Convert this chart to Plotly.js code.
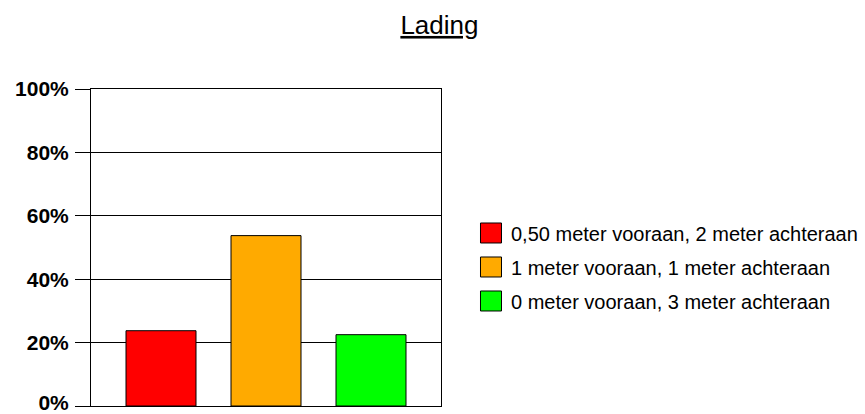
<!DOCTYPE html>
<html>
<head>
<meta charset="utf-8">
<script src="https://cdn.plot.ly/plotly-3.0.1.min.js"></script>
<style>
  html, body { margin: 0; padding: 0; background: #fff; }
  #chart { width: 865px; height: 414px; }
</style>
</head>
<body>
<div id="chart"></div>
<script>
// Ladingverdeling: aandeel per variant
const seriesNames = [
  '0,50 meter vooraan, 2 meter achteraan',
  '1 meter vooraan, 1 meter achteraan',
  '0 meter vooraan, 3 meter achteraan'
];
const shares = [0.2375, 0.5375, 0.225];
const barColors = ['#FF0000', '#FFAA00', '#00FF00'];
const yTickValues = [0, 0.2, 0.4, 0.6, 0.8, 1.0];

const FONT = 'Arial, "Liberation Sans", sans-serif';

const traces = seriesNames.map((name, i) => ({
  type: 'bar',
  name: name,
  x: [name],
  y: [shares[i]],
  legendgroup: 'g' + i,
  marker: { color: barColors[i], line: { color: '#000', width: 1 } },
  hoverinfo: 'y+name'
}));

const layout = {
  width: 865,
  height: 414,
  paper_bgcolor: '#fff',
  plot_bgcolor: '#fff',
  margin: { l: 91, r: 424, t: 89, b: 8, pad: 0, autoexpand: false },
  font: { family: FONT, color: '#000' },
  title: {
    text: '<u>Lading</u>',
    font: { family: FONT, size: 26, color: '#000' },
    x: 0.508, xanchor: 'center',
    y: 0.94, yanchor: 'middle'
  },
  barmode: 'overlay',
  bargap: 1 / 3,
  xaxis: {
    type: 'category',
    categoryorder: 'array',
    categoryarray: seriesNames,
    range: [-2 / 3, 2 + 2 / 3],
    showticklabels: false,
    ticks: '',
    showgrid: false,
    zeroline: false,
    showline: true,
    mirror: true,
    linecolor: '#000',
    linewidth: 1,
    fixedrange: true
  },
  yaxis: {
    range: [0, 1],
    tickvals: yTickValues,
    tickformat: '.0%',
    ticks: 'outside',
    ticklen: 15,
    tickcolor: '#000',
    tickwidth: 1,
    ticklabelstandoff: 2,
    ticklabeloverflow: 'allow',
    tickfont: { family: FONT, size: 21, color: '#000', weight: 'bold' },
    showgrid: true,
    gridcolor: '#000',
    gridwidth: 1,
    zeroline: false,
    showline: true,
    mirror: true,
    linecolor: '#000',
    linewidth: 1,
    fixedrange: true
  },
  showlegend: true,
  legend: {
    xref: 'container',
    x: 0.5445, xanchor: 'left',
    y: 0.4385, yanchor: 'middle',
    font: { family: FONT, size: 20, color: '#000' },
    tracegroupgap: 5,
    bgcolor: 'rgba(0,0,0,0)',
    borderwidth: 0
  }
};

Plotly.newPlot('chart', traces, layout, { displayModeBar: false, staticPlot: true }).then(gd => {
  // enlarge the legend swatches
  gd.querySelectorAll('.legend .legendpoints path').forEach(p => {
    p.setAttribute('d', 'M10.5,10H-10.5V-10H10.5Z');
    p.style.strokeWidth = '1px';
    p.style.stroke = '#000';
  });
  // lift the bottom tick label so it stays inside the page
  gd.querySelectorAll('.ytick text').forEach(t => {
    if (t.textContent.trim() === '0%') {
      const y = parseFloat(t.getAttribute('y') || '0');
      t.setAttribute('y', String(y - 3));
    }
  });
});
</script>
</body>
</html>
